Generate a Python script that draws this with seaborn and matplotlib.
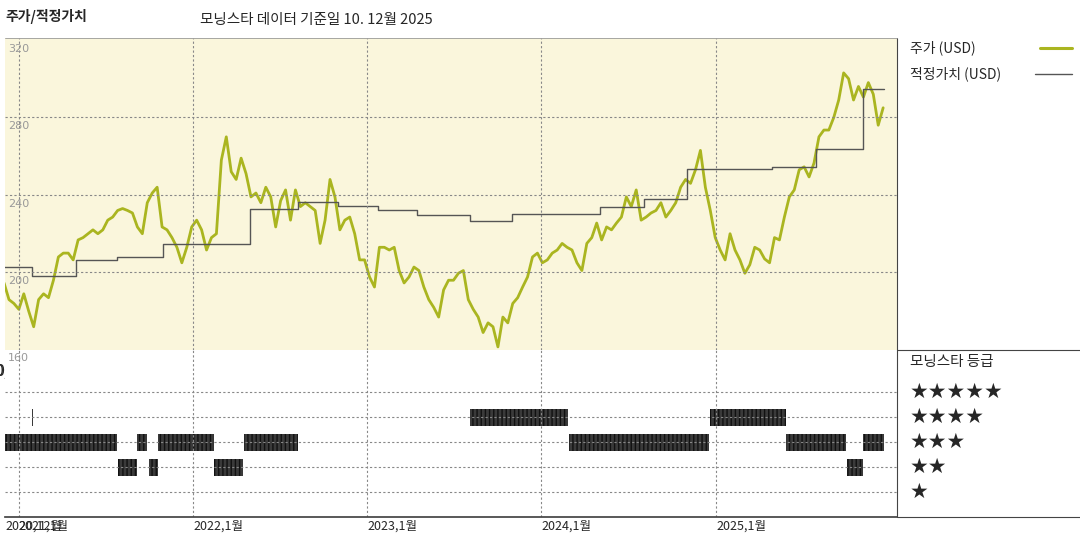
import numpy as np
import pandas as pd
import matplotlib
matplotlib.use("Agg")
import matplotlib.pyplot as plt
import matplotlib.dates as mdates
import matplotlib.transforms as mtrans
import seaborn as sns

sns.set_theme(style="white")
plt.rcParams['font.family'] = ['Noto Sans CJK KR', 'DejaVu Sans']

# ---- data ----
price_start = "2020-12-01"
price_end = "2025-12-17"
price = [194.6, 186, 184, 181, 189, 180, 172, 186, 189, 187, 196, 208, 210, 210, 206.5,
         216.8, 218, 220, 222, 220, 222, 227, 228.6, 232, 233, 232, 230.7, 223.5, 220, 236,
         241, 244, 223.5, 222, 218, 213, 205, 213, 223.5, 227, 222, 211.6, 218, 220, 258,
         270, 252, 248, 259, 251, 239, 241, 236, 244, 239, 223.5, 237, 242.6, 227, 242.6,
         234, 236, 234, 232, 215, 227, 248, 239, 222, 227, 228.6, 220, 206.5, 206.5, 197.7,
         192.5, 213, 213, 211.6, 213, 201, 194.6, 197.7, 202.8, 201, 192.5, 186, 182, 177, 191,
         196, 196, 199.6, 201, 186, 181, 177, 169, 174, 172, 161.6, 177, 174, 184, 187,
         192.5, 197.7, 208, 210, 205, 206.5, 210, 211.6, 215, 213, 211.6, 205, 201, 215, 218,
         225.5, 216.8, 223.5, 222, 225.5, 228.6, 239, 234, 242.6, 227, 228.6, 230.7, 232, 236, 228.6,
         232, 236, 244, 248, 246, 253, 263, 244, 232, 218, 211.6, 206.5, 220, 211.6, 206.5,
         199.6, 204, 213, 211.6, 207, 205, 218, 216.8, 228.6, 239, 242.6, 253, 254.5, 249.3, 256.5,
         270, 273.5, 273.5, 280, 289, 303, 300, 289, 296, 290.5, 298, 292, 276, 285]

fair_dates = ["2020-12-01", "2021-01-29", "2021-05-01", "2021-07-26", "2021-10-31", "2022-05-01",
              "2022-08-09", "2022-10-31", "2023-01-23", "2023-04-16", "2023-08-05", "2023-10-31",
              "2024-05-03", "2024-08-03", "2024-10-31", "2025-04-28", "2025-07-30", "2025-11-05",
              "2025-12-18"]
fair_value = [203, 198, 206.5, 208, 214.7, 233, 236.5, 234.5, 232.2, 229.9, 226.6, 230,
              234, 238, 253.4, 254.5, 263.7, 294.7, 294.7]

rating_start = ["2020-12-01", "2021-01-28", "2021-07-28", "2021-09-06", "2021-10-01", "2021-10-20",
                "2022-02-14", "2022-04-17", "2023-08-05", "2024-02-27", "2024-12-20", "2025-05-28",
                "2025-10-03", "2025-11-05"]
rating_end = ["2021-07-26", "2021-01-30", "2021-09-06", "2021-09-27", "2021-10-20", "2022-02-14",
              "2022-04-15", "2022-08-09", "2024-02-25", "2024-12-18", "2025-05-28", "2025-10-01",
              "2025-11-05", "2025-12-18"]
rating_stars = [3, 4, 2, 3, 2, 3, 2, 3, 4, 3, 4, 3, 2, 3]

year_ticks = ["2021-01-01", "2022-01-01", "2023-01-01", "2024-01-01", "2025-01-01"]
year_labels = ["2021,1월", "2022,1월", "2023,1월", "2024,1월", "2025,1월"]
price_ticks = [320, 280, 240, 200, 160]

df = pd.DataFrame({"date": pd.date_range(price_start, price_end, periods=len(price)),
                   "price": price})
fv = pd.DataFrame({"date": pd.to_datetime(fair_dates), "fv": fair_value})

fig = plt.figure(figsize=(10.8, 5.4), dpi=100)
W, H = 1080, 540
ax = fig.add_axes([5 / W, 1 - 350 / H, 892 / W, 312 / H])
axr = fig.add_axes([5 / W, 1 - 517 / H, 892 / W, 167 / H], sharex=ax)

xmin, xmax = pd.Timestamp("2020-12-03"), pd.Timestamp("2026-01-15")
ax.set_facecolor("#faf6dc")
ax.set_xlim(xmin, xmax)
ax.set_ylim(160, 321)

sns.lineplot(data=df, x="date", y="price", ax=ax, color="#aab520", lw=2, legend=False)
ax.step(fv["date"], fv["fv"], where="post", color="#555555", lw=1)

grid_kw = dict(color="#888888", lw=0.8, ls=(0, (2, 2)))
for t in price_ticks[1:-1]:
    ax.axhline(t, **grid_kw)
for t in year_ticks:
    ax.axvline(pd.Timestamp(t), **grid_kw)
    axr.axvline(pd.Timestamp(t), **grid_kw)

tr = mtrans.blended_transform_factory(ax.transAxes, ax.transData)
for t in price_ticks[:-1]:
    ax.text(0.004, t - 2, str(t), transform=tr, va="top", ha="left",
            fontsize=8, color="#999999", family="DejaVu Sans")
fig.text(8 / W, 1 - 353 / H, "160", va="top", ha="left", fontsize=8,
         color="#999999", family="DejaVu Sans", zorder=10)

ax.set_xticks([]); ax.set_yticks([])
ax.set_xlabel(""); ax.set_ylabel("")
for s in ax.spines.values():
    s.set_visible(False)

# ratings
axr.set_ylim(0, 6.68)
for s in range(1, 6):
    axr.axhline(s, **grid_kw)
for a, b, s in zip(rating_start, rating_end, rating_stars):
    a, b = pd.Timestamp(a), pd.Timestamp(b)
    axr.broken_barh([(mdates.date2num(a), max(mdates.date2num(b) - mdates.date2num(a), 1.5))],
                    (s - 0.34, 0.68), facecolor="#3a3a3a", edgecolor="#111111",
                    hatch="||||", lw=0)
axr.set_yticks([])
axr.set_xticks([pd.Timestamp("2020-12-03")] + [pd.Timestamp(t) for t in year_ticks])
axr.set_xticklabels(["2020,12월"] + year_labels, ha="left", fontsize=9)
axr.tick_params(axis="x", length=0, pad=2)
for s in ["top", "left", "right"]:
    axr.spines[s].set_visible(False)
axr.spines["bottom"].set_color("#444444")

# right panel and header
fig.add_artist(plt.Line2D([897 / W, 897 / W], [1 - 38 / H, 1 - 517 / H], color="#444444", lw=0.8))
fig.add_artist(plt.Line2D([897 / W, 1], [1 - 350 / H, 1 - 350 / H], color="#444444", lw=0.8))
fig.add_artist(plt.Line2D([897 / W, 1], [1 - 517 / H, 1 - 517 / H], color="#444444", lw=0.8))
fig.add_artist(plt.Line2D([5 / W, 897 / W], [1 - 38 / H, 1 - 38 / H], color="#999999", lw=0.6))

fig.text(5 / W, 1 - 17 / H, "주가/적정가치", fontsize=10, weight="bold", va="center")
fig.text(200 / W, 1 - 20 / H, "모닝스타 데이터 기준일 10. 12월 2025", fontsize=10.5, va="center")
fig.text(910 / W, 1 - 48 / H, "주가 (USD)", fontsize=10, va="center")
fig.add_artist(plt.Line2D([1040 / W, 1072 / W], [1 - 48 / H] * 2, color="#aab520", lw=2.2))
fig.text(910 / W, 1 - 74 / H, "적정가치 (USD)", fontsize=10, va="center")
fig.add_artist(plt.Line2D([1035 / W, 1072 / W], [1 - 74 / H] * 2, color="#555555", lw=1))
fig.text(910 / W, 1 - 362 / H, "모닝스타 등급", fontsize=10.5, va="center")
for i, s in enumerate(range(5, 0, -1)):
    fig.text(910 / W, 1 - (392 + 25 * i) / H, "★" * s, fontsize=15, va="center",
             family=["DejaVu Sans"])

fig.savefig("out.png", dpi=100)
